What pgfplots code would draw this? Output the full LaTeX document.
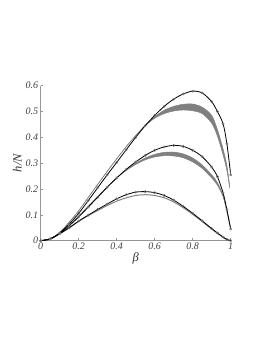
\documentclass[border=0pt]{standalone}
\usepackage{fontspec}
\setmainfont{Liberation Serif}
\usepackage{pgfplots}
\usepackage{pgfplotstable}
\pgfplotsset{compat=1.18}
\usepgfplotslibrary{fillbetween}

\pgfplotstableread{
b T M B
0 0 0 0
0.05 0.007 0.007 0.007
0.1 0.03 0.028 0.027
0.15 0.065 0.058 0.05
0.2 0.106 0.092 0.076
0.25 0.155 0.13 0.099
0.3 0.205 0.168 0.121
0.35 0.255 0.207 0.142
0.4 0.303 0.243 0.162
0.45 0.352 0.276 0.178
0.5 0.4 0.305 0.188
0.55 0.445 0.33 0.19
0.6 0.485 0.35 0.186
0.65 0.52 0.363 0.175
0.7 0.548 0.369 0.157
0.75 0.568 0.365 0.133
0.8 0.579 0.35 0.106
0.85 0.572 0.325 0.077
0.9 0.538 0.285 0.047
0.93 0.5 0.248 0.03
0.96 0.452 0.185 0.014
0.98 0.375 0.12 0.005
1.0 0.255 0.045 0
}\blacktab

\pgfplotstableread{
b U L
0 0 0
0.05 0.007 0.007
0.1 0.032 0.032
0.15 0.072 0.072
0.2 0.116 0.116
0.25 0.167 0.167
0.3 0.218 0.218
0.35 0.268 0.268
0.4 0.317 0.317
0.45 0.364 0.364
0.5 0.407 0.406
0.55 0.447 0.445
0.6 0.48 0.474
0.65 0.505 0.492
0.7 0.52 0.502
0.75 0.528 0.506
0.8 0.529 0.503
0.85 0.517 0.492
0.9 0.485 0.455
0.93 0.43 0.405
0.96 0.355 0.332
0.98 0.29 0.272
0.995 0.21 0.203
}\topgray

\pgfplotstableread{
b U L
0 0 0
0.05 0.007 0.007
0.1 0.029 0.029
0.15 0.06 0.06
0.2 0.095 0.095
0.25 0.133 0.133
0.3 0.171 0.171
0.35 0.208 0.208
0.4 0.243 0.243
0.45 0.274 0.272
0.5 0.3 0.295
0.55 0.32 0.313
0.6 0.334 0.324
0.65 0.342 0.329
0.7 0.343 0.328
0.75 0.336 0.321
0.8 0.32 0.305
0.85 0.293 0.28
0.9 0.255 0.243
0.93 0.225 0.215
0.96 0.175 0.17
0.98 0.115 0.112
1.0 0.045 0.045
}\midgray

\pgfplotstableread{
b G
0 0
0.05 0.007
0.1 0.027
0.15 0.05
0.2 0.075
0.25 0.097
0.3 0.117
0.35 0.136
0.4 0.153
0.45 0.166
0.5 0.175
0.55 0.178
0.6 0.175
0.65 0.166
0.7 0.15
0.75 0.128
0.8 0.102
0.85 0.074
0.9 0.045
0.93 0.029
0.96 0.013
0.98 0.005
1.0 0
}\botgray

\definecolor{bandgray}{RGB}{128,128,128}
\definecolor{axgray}{RGB}{150,150,150}

\begin{document}
\begin{tikzpicture}
\begin{axis}[
  at={(0pt,0pt)}, anchor=south west,
  scale only axis, width=190pt, height=155pt,
  xmin=0, xmax=1, ymin=0, ymax=0.6,
  axis lines=left,
  axis line style={-, axgray, line width=0.6pt},
  tick style={axgray, line width=0.5pt},
  tick align=inside,
  major tick length=2.5pt,
  xtick={0,0.2,0.4,0.6,0.8,1},
  ytick={0,0.1,0.2,0.3,0.4,0.5,0.6},
  /pgf/number format/assume math mode=true,
  ticklabel style={font=\fontsize{10}{12}\selectfont\itshape, text=black!75},
  xticklabel style={yshift=1pt},
  yticklabel style={xshift=1pt},
  xlabel={\itshape β},
  ylabel={\itshape h/N},
  label style={font=\fontsize{12.5}{14}\selectfont, text=black!80},
  xlabel style={yshift=4pt},
  ylabel style={yshift=-3pt},
  every axis plot/.append style={line join=round},
  blk/.style={black, line width=0.8pt, smooth, mark=o, mark size=1.2pt,
    mark options={black!55, line width=0.5pt, fill=white}},
]
% gray bands
\addplot[name path=tu, draw=bandgray, line width=0.5pt, smooth] table[x=b,y=U] {\topgray};
\addplot[name path=tl, draw=bandgray, line width=0.5pt, smooth] table[x=b,y=L] {\topgray};
\addplot[bandgray] fill between[of=tu and tl];
\addplot[name path=mu, draw=bandgray, line width=0.5pt, smooth] table[x=b,y=U] {\midgray};
\addplot[name path=ml, draw=bandgray, line width=0.5pt, smooth] table[x=b,y=L] {\midgray};
\addplot[bandgray] fill between[of=mu and ml];
\addplot[draw=bandgray, line width=1pt, smooth] table[x=b,y=G] {\botgray};
% black curves with markers
\addplot[blk] table[x=b,y=T] {\blacktab};
\addplot[blk] table[x=b,y=M] {\blacktab};
\addplot[blk] table[x=b,y=B] {\blacktab};
\end{axis}
\path (-40.7pt,-100.3pt) rectangle (223.3pt,240.7pt);
\end{tikzpicture}
\end{document}
